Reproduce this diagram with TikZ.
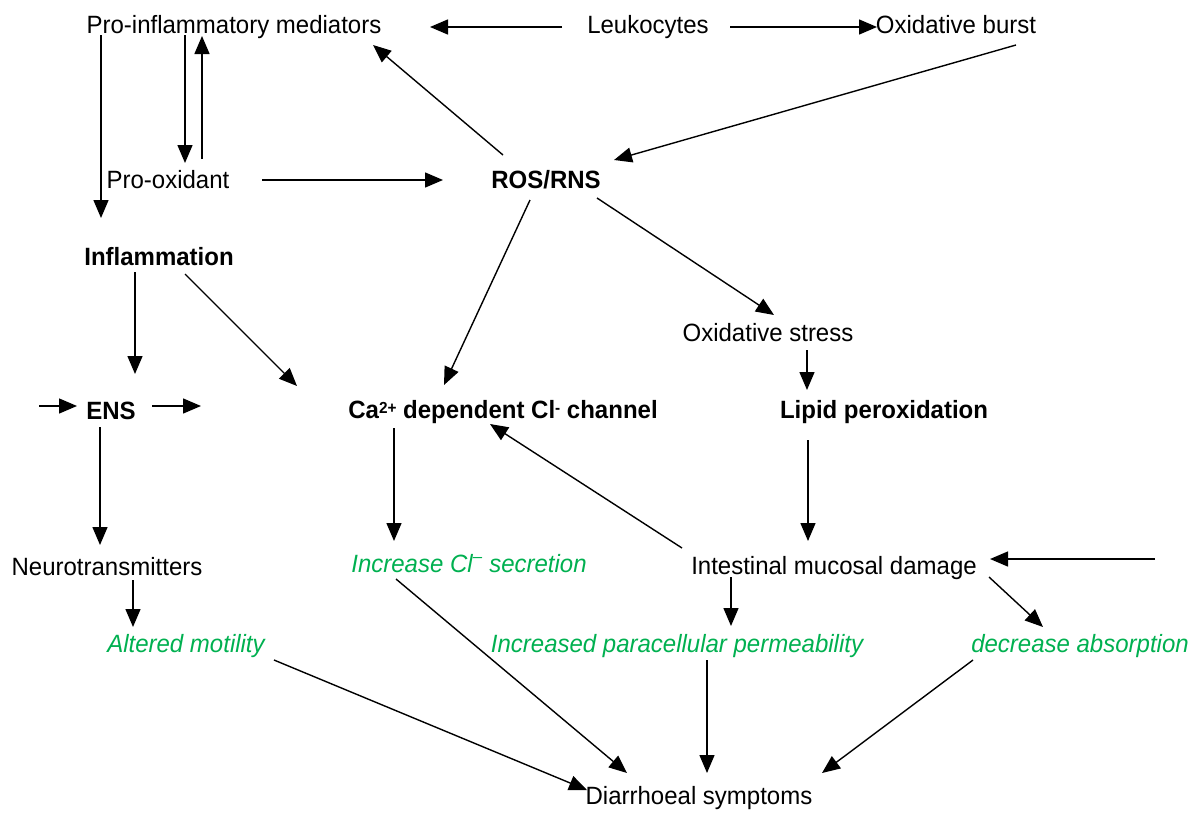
\documentclass[tikz,border=0pt]{standalone}
\usepackage{fontspec}
\setmainfont[FakeStretch=0.96]{Liberation Sans}
\usetikzlibrary{arrows.meta,calc}
\definecolor{grn}{RGB}{0,176,80}
\begin{document}
\begin{tikzpicture}[x=1pt,y=-1pt,
  lbl/.style={inner sep=0pt,text height=17pt,text depth=5pt,font=\fontsize{25}{28}\selectfont},
  blbl/.style={lbl,font=\fontsize{25}{28}\selectfont\bfseries},
  glbl/.style={lbl,text=grn,font=\fontsize{25}{28}\selectfont\itshape},
  arr/.style={line width=1.4pt,-{Triangle[length=18pt,width=15pt]}}]
\useasboundingbox (0,0) rectangle (1198,812);
\node[lbl] (pim) at (234,27) {Pro-inflammatory mediators};
\node[lbl] (leuk) at (648,27) {Leukocytes};
\node[lbl] (burst) at (956,27) {Oxidative burst};
\node[lbl] (prox) at (168,182) {Pro-oxidant};
\node[blbl] (ros) at (546,182) {ROS/RNS};
\node[blbl] (infl) at (159,259) {Inflammation};
\node[lbl] (ostress) at (768,335) {Oxidative stress};
\node[blbl] (ens) at (111,413) {ENS};
\node[blbl] (ca) at (503,412) {Ca{\fontsize{16}{16}\selectfont\raisebox{5pt}{2+}} dependent Cl{\fontsize{16}{16}\selectfont\raisebox{5pt}{-}} channel};
\node[blbl] (lipid) at (884,412) {Lipid peroxidation};
\node[lbl] (neuro) at (107,569) {Neurotransmitters};
\node[glbl] (clsec) at (469,566) {Increase Cl\textsuperscript{–} secretion};
\node[lbl] (imd) at (834,568) {Intestinal mucosal damage};
\node[glbl] (motil) at (186,646) {Altered motility};
\node[glbl] (para) at (677,646) {Increased paracellular permeability};
\node[glbl] (absorb) at (1080,646) {decrease absorption};
\node[lbl] (diarr) at (699,798) {Diarrhoeal symptoms};
\coordinate (ensin) at (39,406);
\coordinate (ensout) at (201,406);
\coordinate (imdin) at (1155,559);
% connectors
\draw[arr] ($(leuk)+(-86,0)$) -- ($(pim)+(196,0)$);
\draw[arr] ($(leuk)+(82,0)$) -- ($(burst)+(-79,0)$);
\draw[arr] ($(pim)+(-49,8)$) -- ($(prox)+(17,-19)$);
\draw[arr] ($(prox)+(34,-23)$) -- ($(pim)+(-32,9)$);
\draw[arr] ($(pim)+(-133,8)$) -- ($(infl)+(-58,-41)$);
\draw[arr] ($(prox)+(94,-2)$) -- ($(ros)+(-103,-2)$);
\draw[arr] ($(ros)+(-43,-27)$) -- ($(pim)+(139,18)$);
\draw[arr] ($(burst)+(60,18)$) -- ($(ros)+(68,-22)$);
\draw[arr] ($(ros)+(-16,18)$) -- ($(ca)+(-59,-27)$);
\draw[arr] ($(ros)+(51,16)$) -- ($(ostress)+(6,-20)$);
\draw[arr] ($(ostress)+(39,15)$) -- ($(lipid)+(-77,-22)$);
\draw[arr] ($(infl)+(-24,13)$) -- ($(ens)+(24,-39)$);
\draw[arr] ($(infl)+(26,15)$) -- ($(ca)+(-206,-26)$);
\draw[arr] (ensin) -- ($(ens)+(-34,-7)$);
\draw[arr] ($(ens)+(41,-7)$) -- (ensout);
\draw[arr] ($(ens)+(-11,14)$) -- ($(neuro)+(-7,-24)$);
\draw[arr] ($(ca)+(-109,16)$) -- ($(clsec)+(-75,-25)$);
\draw[arr] ($(lipid)+(-76,28)$) -- ($(imd)+(-26,-27)$);
\draw[arr] ($(imd)+(-152,-20)$) -- ($(ca)+(-13,12)$);
\draw[arr] (imdin) -- ($(imd)+(156,-9)$);
\draw[arr] ($(imd)+(-103,9)$) -- ($(para)+(54,-20)$);
\draw[arr] ($(imd)+(155,9)$) -- ($(absorb)+(-37,-19)$);
\draw[arr] ($(neuro)+(26,11)$) -- ($(motil)+(-53,-19)$);
\draw[arr] ($(motil)+(88,14)$) -- ($(diarr)+(-112,-8)$);
\draw[arr] ($(clsec)+(-73,13)$) -- ($(diarr)+(-72,-25)$);
\draw[arr] ($(para)+(30,14)$) -- ($(diarr)+(8,-25)$);
\draw[arr] ($(absorb)+(-107,14)$) -- ($(diarr)+(123,-25)$);
\end{tikzpicture}
\end{document}
